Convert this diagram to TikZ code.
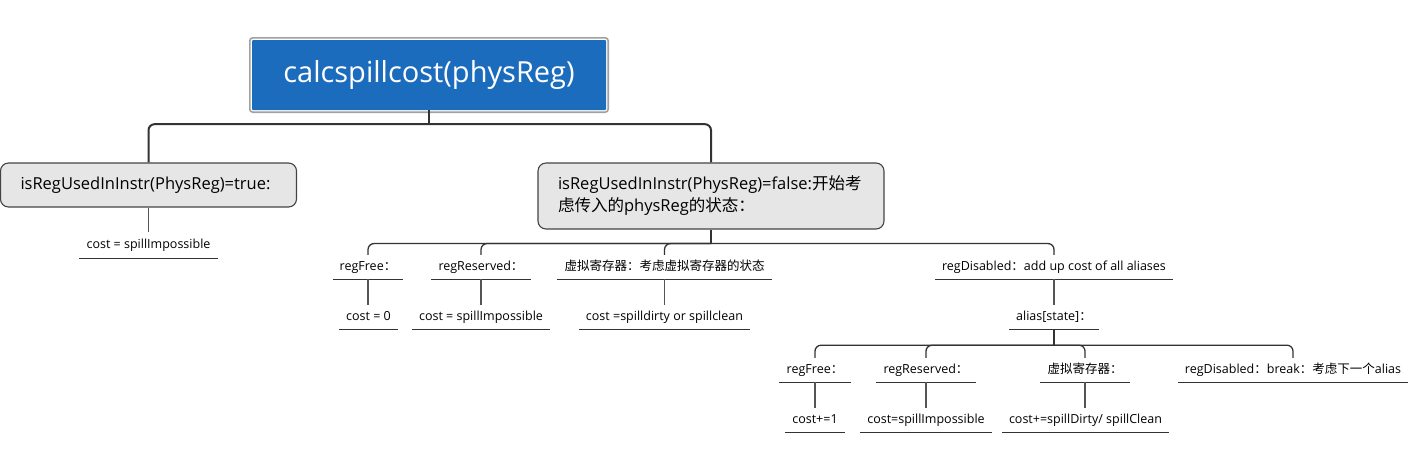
\documentclass[tikz,border=0pt]{standalone}
\usepackage{fontspec}
\setmainfont{Open Sans}
\newfontfamily\cjk{Noto Sans CJK SC}
\usetikzlibrary{calc}
\definecolor{rootblue}{HTML}{1C6CBE}
\definecolor{rootedge}{HTML}{A0A0A0}
\definecolor{boxfill}{HTML}{E6E6E6}
\definecolor{boxedge}{HTML}{444444}
\definecolor{linedark}{HTML}{333333}
\definecolor{linegray}{HTML}{555555}
\begin{document}
\begin{tikzpicture}[x=1pt,y=-1pt,
  rootnode/.style={fill=rootblue, text=white, minimum width=354pt, minimum height=70pt, inner sep=0pt, font=\fontsize{29}{33}\selectfont, rounded corners=1pt},
  topbox/.style={draw=boxedge, fill=boxfill, line width=1.1pt, rounded corners=8pt, inner xsep=20pt, inner ysep=0pt, align=left, font=\fontsize{16.5}{22}\selectfont},
  lbl/.style={inner sep=0pt, minimum height=24pt, text height=9.5pt, text depth=3pt, font=\fontsize{12.5}{15}\selectfont},
  uline/.style={draw=linedark, line width=1.1pt},
  connA/.style={draw=linedark, line width=2pt, rounded corners=6pt},
  connB/.style={draw=linedark, line width=1.3pt, rounded corners=6pt},
  vline/.style={draw=linegray, line width=1.1pt}
]
\useasboundingbox (0,0) rectangle (1416,475);

% root
\node[rootnode] (root) at (429,75) {calcspillcost(physReg)};
\draw[rootedge, line width=1.6pt, rounded corners=3pt] ($(root.north west)+(-2,-2)$) rectangle ($(root.south east)+(2,2)$);

% level 1
\node[topbox, text width=256pt, minimum height=44pt] (ta) at (148.5,185) {isRegUsedInInstr(PhysReg)=true:};
\node[topbox, text width=306pt, minimum height=66pt] (tb) at (711,196) {isRegUsedInInstr(PhysReg)=false:{\cjk 开始考}\\{\cjk 虑传入的}physReg{\cjk 的状态：}};

\node[lbl, minimum width=138pt, minimum height=26pt] (a1) at (148.5,245) {cost = spillImpossible};

% level 2
\node[lbl, minimum width=70pt] (b1) at (368,267) {regFree{\cjk ：}};
\node[lbl, minimum width=100pt] (b2) at (481,267) {regReserved{\cjk ：}};
\node[lbl, minimum width=215pt] (b3) at (664.5,267) {{\cjk 虚拟寄存器：考虑虚拟寄存器的状态}};
\node[lbl, minimum width=238pt] (b4) at (1054,267) {regDisabled{\cjk ：}add up cost of all aliases};

\node[lbl, minimum width=59pt] (c1) at (368.5,317) {cost = 0};
\node[lbl, minimum width=138pt] (c2) at (481,317) {cost = spillImpossible};
\node[lbl, minimum width=171pt] (c3) at (664.5,317) {cost =spilldirty or spillclean};
\node[lbl, minimum width=89pt] (c4) at (1054,317) {alias[state]{\cjk ：}};

% level 3
\node[lbl, minimum width=72pt] (d1) at (815,370) {regFree{\cjk ：}};
\node[lbl, minimum width=100pt] (d2) at (926,370) {regReserved{\cjk ：}};
\node[lbl, minimum width=90pt] (d3) at (1085,370) {{\cjk 虚拟寄存器：}};
\node[lbl, minimum width=230pt] (d4) at (1293,370) {regDisabled{\cjk ：}break{\cjk ：考虑下一个}alias};

\node[lbl, minimum width=60pt] (e1) at (815,420) {cost+=1};
\node[lbl, minimum width=132pt] (e2) at (926,420) {cost=spillImpossible};
\node[lbl, minimum width=167pt] (e3) at (1085.5,420) {cost+=spillDirty/ spillClean};

% underlines
\foreach \n in {a1,b1,b2,b3,b4,c1,c2,c3,c4,d1,d2,d3,d4,e1,e2,e3}
  \draw[uline] (\n.south west) -- (\n.south east);

% connectors
\coordinate (j1) at ($(root.south)+(0,14)$);
\draw[connA] (root.south) -- (j1);
\draw[connA] (j1) -| (ta.north);
\draw[connA] (j1) -| (tb.north);

\draw[vline] (ta.south) -- (ta.south |- a1.north);

\coordinate (j2) at ($(tb.south)+(0,14)$);
\draw[connB] (tb.south) -- (j2);
\foreach \n in {b1,b2,b3,b4}
  \draw[connB] (j2) -| (\n.north);

\foreach \p/\c in {b1/c1,b2/c2,b3/c3,b4/c4,d1/e1,d2/e2,d3/e3}
  \draw[vline] (\p.south) -- (\p.south |- \c.north);

\coordinate (j3) at ($(c4.south)+(0,16)$);
\draw[connA] (c4.south) -- (j3);
\foreach \n in {d1,d2,d3,d4}
  \draw[connB] (j3) -| (\n.north);
\end{tikzpicture}
\end{document}
